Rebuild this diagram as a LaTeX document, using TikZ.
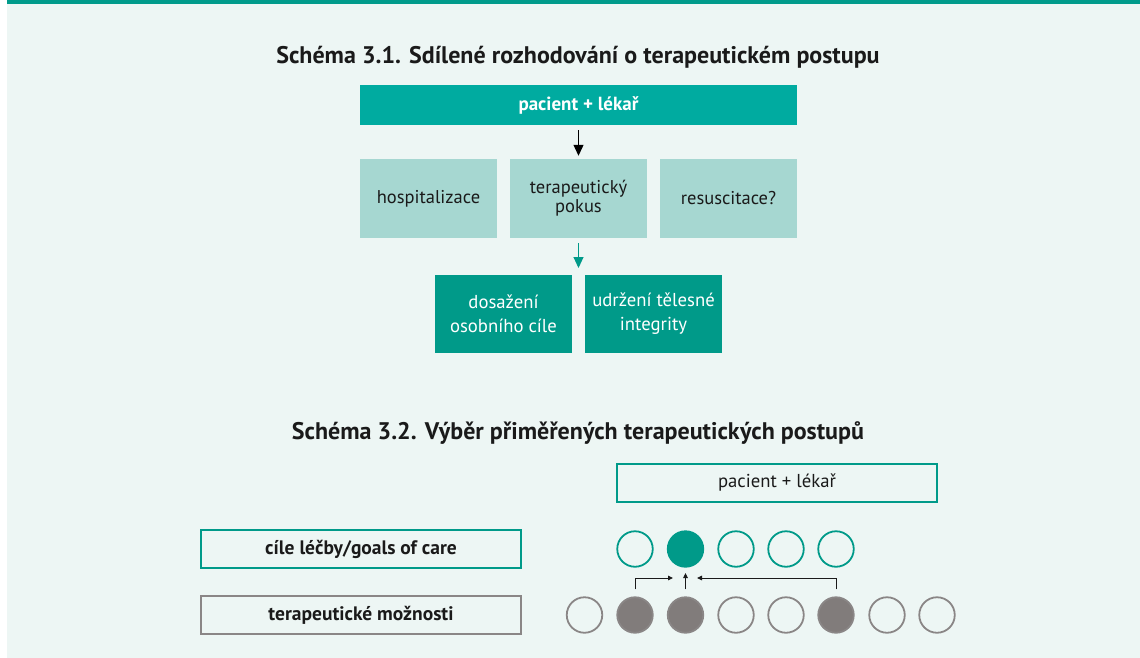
\documentclass[tikz,border=0pt]{standalone}
\usepackage{fontspec}
\setmainfont{PT Sans}
\usetikzlibrary{arrows.meta}
\definecolor{bg}{HTML}{EDF6F4}
\definecolor{topbar}{HTML}{009B8B}
\definecolor{headteal}{HTML}{00ABA0}
\definecolor{lightteal}{HTML}{A6D7D1}
\definecolor{darkteal}{HTML}{009A89}
\definecolor{txt}{HTML}{1A1A1A}
\definecolor{grayc}{HTML}{8A8686}
\definecolor{grayf}{HTML}{817C7B}
\tikzset{
  titletext/.style={font=\bfseries\fontsize{24}{28}\selectfont, text=txt},
  headbox/.style={fill=headteal, minimum width=437pt, minimum height=40pt, inner sep=0pt, text=white, font=\bfseries\fontsize{19}{22}\selectfont},
  lightbox/.style={fill=lightteal, minimum width=137pt, minimum height=79pt, inner sep=0pt, text=txt, align=center, font=\fontsize{18.5}{19}\selectfont},
  darkbox/.style={fill=darkteal, minimum width=137pt, minimum height=78pt, inner sep=0pt, text=white, align=center, font=\fontsize{18.7}{24}\selectfont},
  outbox/.style={draw=darkteal, line width=2.2pt, minimum width=320pt, minimum height=38pt, inner sep=0pt, text=txt, font=\fontsize{18.7}{21}\selectfont},
  graybox/.style={draw=grayc, line width=2.4pt, minimum width=320pt, minimum height=38pt, inner sep=0pt, text=txt, font=\bfseries\fontsize{19.5}{21}\selectfont},
  tcirc/.style={circle, draw=darkteal, line width=1.8pt, minimum size=35.5pt, inner sep=0pt},
  tcircf/.style={tcirc, fill=darkteal},
  gcirc/.style={circle, draw=grayc, line width=1.8pt, minimum size=35.5pt, inner sep=0pt},
  gcircf/.style={gcirc, fill=grayf},
  smallarr/.style={draw=txt, line width=0.9pt, -{Triangle[length=5pt,width=4.5pt]}},
}
\begin{document}
\begin{tikzpicture}[x=1pt, y=-1pt]
\useasboundingbox (0,0) rectangle (1140,658);
\fill[white] (0,0) rectangle (1140,658);
\fill[bg] (7,0) rectangle (1140,658);
\fill[topbar] (7,0) rectangle (1140,4);

% Schema 3.1
\node[titletext] (t1) at (578,57) {Schéma 3.1. Sdílené rozhodování o terapeutickém postupu};
\node[headbox] (head) at (578.5,105) {pacient + lékař};
\node[lightbox] (hosp) at (428.5,198.5) {hospitalizace};
\node[lightbox] (pokus) at (578.5,198.5) {terapeutický\\pokus};
\node[lightbox] (resus) at (728.5,198.5) {resuscitace?};
\node[darkbox] (cil) at (503.5,314) {dosažení\\osobního cíle};
\node[darkbox] (integ) at (653.5,314) {udržení tělesné\\integrity};
\coordinate (gap) at (578.5,275);
\draw[line width=1.1pt, draw=black, -{Triangle[length=11pt,width=10pt]}, shorten <=5pt, shorten >=3pt] (head.south) -- (pokus.north);
\draw[line width=1.1pt, draw=darkteal, -{Triangle[length=11pt,width=10pt]}, shorten <=5pt, shorten >=7pt] (pokus.south) -- (gap);

% Schema 3.2
\node[titletext] (t2) at (578,433) {Schéma 3.2. Výběr přiměřených terapeutických postupů};
\node[outbox] (pl) at (777,483) {pacient + lékař};
\node[outbox, font=\bfseries\fontsize{19.5}{21}\selectfont] (goals) at (361,549) {cíle léčby/goals of care};
\node[graybox] (moz) at (361,615) {terapeutické možnosti};

\node[tcirc] (a1) at (635,549) {};
\node[tcircf] (a2) at (685.5,549) {};
\node[tcirc] (a3) at (736,549) {};
\node[tcirc] (a4) at (786,549) {};
\node[tcirc] (a5) at (836,549) {};

\node[gcirc] (b1) at (584.5,615) {};
\node[gcircf] (b2) at (635,615) {};
\node[gcircf] (b3) at (685.5,615) {};
\node[gcirc] (b4) at (736,615) {};
\node[gcirc] (b5) at (786,615) {};
\node[gcircf] (b6) at (836,615) {};
\node[gcirc] (b7) at (887,615) {};
\node[gcirc] (b8) at (937,615) {};

\coordinate (e1) at (673,578);
\coordinate (e2) at (685.5,573);
\coordinate (e3) at (697,578);
\draw[smallarr, shorten <=7pt] (b2.north) |- (e1);
\draw[smallarr, shorten <=7pt] (b3.north) -- (e2);
\draw[smallarr, shorten <=7pt] (b6.north) |- (e3);
\end{tikzpicture}
\end{document}
